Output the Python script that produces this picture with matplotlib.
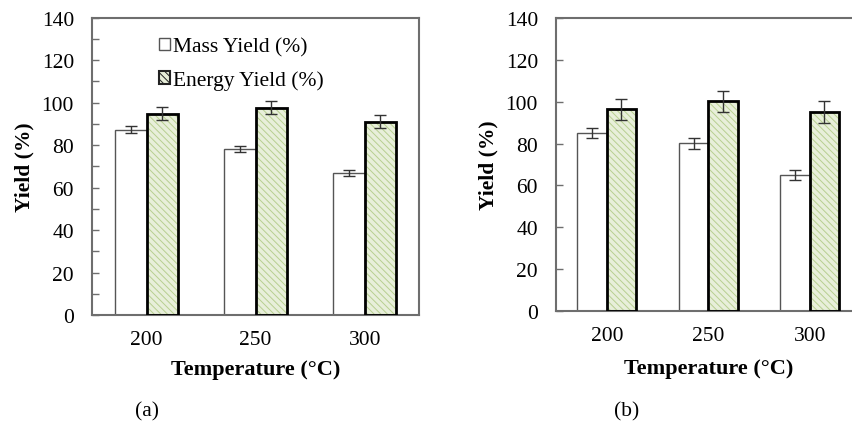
import matplotlib
matplotlib.use('Agg')
import matplotlib.pyplot as plt
from matplotlib.patches import Patch
import numpy as np

# Data
temps = ['200', '250', '300']
mass_a = [87.3, 78.2, 66.8]
mass_a_err = [1.5, 1.6, 1.5]
energy_a = [94.8, 97.6, 91.0]
energy_a_err = [3.0, 3.0, 3.0]

mass_b = [85.3, 80.1, 64.9]
mass_b_err = [2.4, 2.6, 2.4]
energy_b = [96.4, 100.2, 95.2]
energy_b_err = [5.0, 5.1, 5.2]

plt.rcParams['font.family'] = ['Liberation Serif', 'DejaVu Serif']
plt.rcParams['hatch.linewidth'] = 0.7

fill_green = '#e8efda'
hatch_green = '#b8cf90'
spine_grey = '#6e6e6e'
err_grey = '#333333'
fs = 15.5

fig = plt.figure(figsize=(8.52, 4.27), dpi=100)
ax_a = fig.add_axes([0.108, 0.260, 0.384, 0.696])
ax_b = fig.add_axes([0.6526, 0.2693, 0.3574, 0.686])

width = 0.29
x = np.arange(len(temps))


def draw_panel(ax, mass, mass_err, energy, energy_err, minor, xpad):
    ax.bar(x - width / 2, mass, width, color='white', edgecolor='#555555',
           linewidth=1.0, zorder=2)
    # hatched fill first, then the heavy outline on top
    ax.bar(x + width / 2, energy, width, color=fill_green, edgecolor=hatch_green,
           hatch='\\\\\\\\\\', linewidth=0, zorder=2)
    ax.bar(x + width / 2, energy, width, fill=False, edgecolor='black',
           linewidth=2.0, zorder=3)
    ax.errorbar(x - width / 2, mass, yerr=mass_err, fmt='none', ecolor=err_grey,
                elinewidth=1.0, capsize=4, capthick=1.0, zorder=4)
    ax.errorbar(x + width / 2, energy, yerr=energy_err, fmt='none', ecolor=err_grey,
                elinewidth=1.0, capsize=4, capthick=1.0, zorder=4)

    ax.set_xlim(-0.5, 2.5)
    ax.set_ylim(0, 140)
    ax.set_yticks(np.arange(0, 141, 20))
    if minor:
        ax.set_yticks(np.arange(10, 140, 20), minor=True)
    ax.set_xticks(x)
    ax.set_xticklabels(temps)
    ax.tick_params(axis='y', which='both', direction='in', length=5, width=1,
                   color=spine_grey, labelsize=fs, pad=13)
    ax.tick_params(axis='x', length=0, labelsize=fs, pad=11)
    for s in ax.spines.values():
        s.set_color(spine_grey)
        s.set_linewidth(1.5)
    ax.set_ylabel('Yield (%)', fontsize=fs, fontweight='bold', labelpad=5)
    ax.set_xlabel('Temperature (\u00b0C)', fontsize=fs + 0.5, fontweight='bold',
                  labelpad=xpad)


draw_panel(ax_a, mass_a, mass_a_err, energy_a, energy_a_err, minor=True, xpad=7)
draw_panel(ax_b, mass_b, mass_b_err, energy_b, energy_b_err, minor=False, xpad=9)
ax_b.spines['right'].set_visible(False)

# legend only on panel (a)
handles = [Patch(facecolor='white', edgecolor='#555555', linewidth=1.0),
           Patch(facecolor=fill_green, edgecolor='#222222', linewidth=1.5,
                 hatch='\\\\\\\\\\')]
ax_a.legend(handles, ['Mass Yield (%)', 'Energy Yield (%)'], loc='upper left',
            bbox_to_anchor=(0.205, 0.935), frameon=False, fontsize=fs,
            handlelength=0.5, handleheight=0.5, handletextpad=0.15,
            labelspacing=0.65, borderpad=0, borderaxespad=0)

fig.text(147 / 852, 1 - 412 / 427, '(a)', ha='center', va='center', fontsize=fs)
fig.text(627 / 852, 1 - 412 / 427, '(b)', ha='center', va='center', fontsize=fs)

fig.savefig('out.png', dpi=100)
